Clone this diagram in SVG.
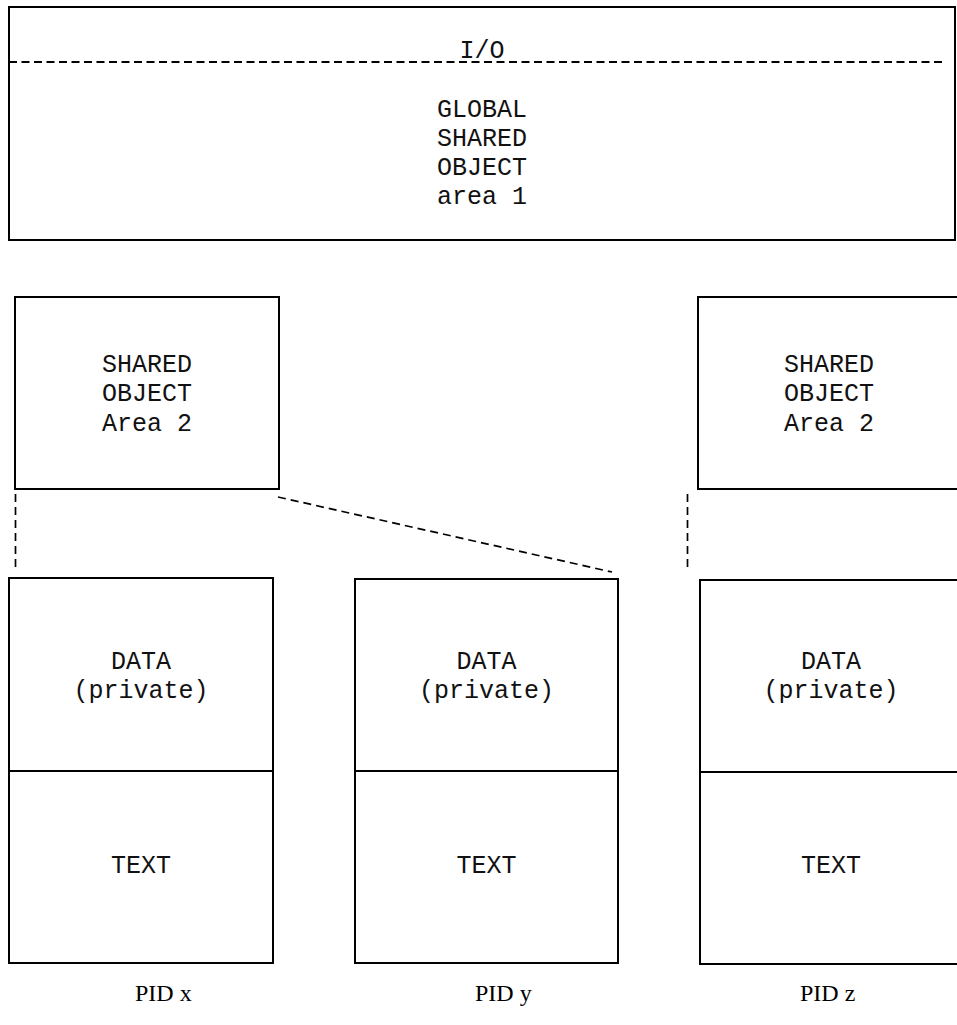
<svg xmlns="http://www.w3.org/2000/svg" width="957" height="1025" viewBox="0 0 957 1025">
<style>
.box{fill:none;stroke:#000;stroke-width:2}
.div{stroke:#000;stroke-width:2}
.dash{fill:none;stroke:#000;stroke-width:1.7;stroke-dasharray:8 5}
.mono{font-family:"Liberation Mono","Courier New",monospace;font-size:25px;fill:#111;text-anchor:middle}
.pid{font-family:"Liberation Serif","Times New Roman",serif;font-size:24px;fill:#000}
</style>
<rect width="957" height="1025" fill="#fff"/>
<g id="global-area">
<rect class="box" x="9" y="7" width="946" height="233"/>
<line x1="9" y1="62" x2="945" y2="62" stroke="#000" stroke-width="1.8" stroke-dasharray="8 4.5"/>
<text class="mono" x="482" y="58">I/O</text>
<text class="mono" x="482" y="117">GLOBAL</text>
<text class="mono" x="482" y="146">SHARED</text>
<text class="mono" x="482" y="175">OBJECT</text>
<text class="mono" x="482" y="204">area 1</text>
</g>
<g id="shared-x">
<rect class="box" x="15" y="297" width="264" height="192"/>
<text class="mono" x="147" y="372">SHARED</text>
<text class="mono" x="147" y="401">OBJECT</text>
<text class="mono" x="147" y="431">Area 2</text>
</g>
<g id="shared-z">
<rect class="box" x="698" y="297" width="262" height="192"/>
<text class="mono" x="829" y="372">SHARED</text>
<text class="mono" x="829" y="401">OBJECT</text>
<text class="mono" x="829" y="431">Area 2</text>
</g>
<g id="proc-x">
<rect class="box" x="9" y="578" width="264" height="385"/>
<line class="div" x1="9" y1="771" x2="273" y2="771"/>
<text class="mono" x="141" y="669">DATA</text>
<text class="mono" x="141" y="698">(private)</text>
<text class="mono" x="141" y="873">TEXT</text>
<text class="pid" x="135" y="1001">PID x</text>
</g>
<g id="proc-y">
<rect class="box" x="355" y="579" width="263" height="384"/>
<line class="div" x1="355" y1="771" x2="618" y2="771"/>
<text class="mono" x="486.5" y="669">DATA</text>
<text class="mono" x="486.5" y="698">(private)</text>
<text class="mono" x="486.5" y="873">TEXT</text>
<text class="pid" x="475" y="1001">PID y</text>
</g>
<g id="proc-z">
<rect class="box" x="700" y="580" width="262" height="384"/>
<line class="div" x1="700" y1="772" x2="962" y2="772"/>
<text class="mono" x="831" y="669">DATA</text>
<text class="mono" x="831" y="698">(private)</text>
<text class="mono" x="831" y="873">TEXT</text>
<text class="pid" x="800" y="1001">PID z</text>
</g>
<g id="connectors">
<line class="dash" x1="15.5" y1="494" x2="15.5" y2="572"/>
<line class="dash" x1="278" y1="497" x2="612" y2="572"/>
<line class="dash" x1="687.5" y1="494" x2="687.5" y2="572"/>
</g>
</svg>
